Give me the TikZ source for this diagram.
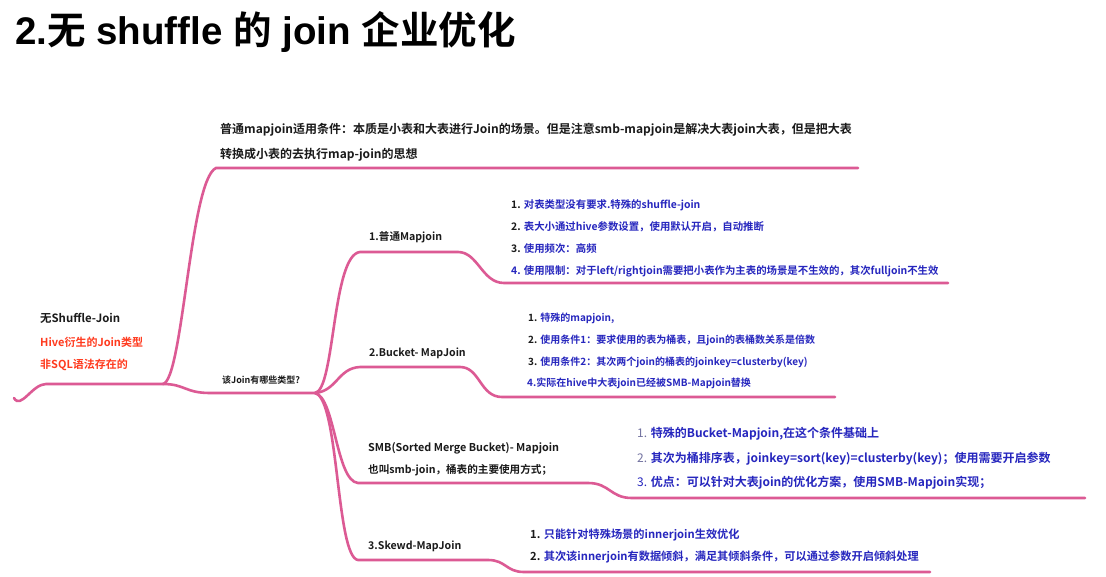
\documentclass[tikz,border=0pt]{standalone}
\usepackage{fontspec}
\setmainfont{Noto Sans CJK SC}[BoldFont={Noto Sans CJK SC Bold}]
\newfontfamily\lat{Liberation Sans}
\usetikzlibrary{positioning}
\definecolor{Branch}{HTML}{DC5A94}
\definecolor{Ink}{HTML}{1A1A1A}
\definecolor{Navy}{HTML}{2626BE}
\definecolor{Alert}{HTML}{FF3A1E}
\definecolor{Dim}{HTML}{7272A0}
\tikzset{
  branch/.style={draw=Branch,line width=2.6pt,line cap=round},
  topic/.style={anchor=west,inner sep=0pt,text=Ink,font=\bfseries\fontsize{10.6}{12}\selectfont},
  item/.style={anchor=west,inner sep=0pt,text=Navy,font=\bfseries\fontsize{10.4}{12}\selectfont},
  note/.style={anchor=west,inner sep=0pt,text=Ink,font=\bfseries\fontsize{12}{14}\selectfont}
}
\newcommand{\num}[1]{\textcolor{Ink}{#1}}
\newcommand{\dimnum}[1]{\textcolor{Dim}{\mdseries #1}}

\begin{document}
\begin{tikzpicture}[x=1pt,y=-1pt]
  \useasboundingbox (0,0) rectangle (1106,576);
  \fill[white] (0,0) rectangle (1106,576);
  % title
  \node[anchor=west,inner sep=0pt,font=\bfseries\fontsize{38.5}{42}\selectfont] (title) at (15,32) {{\lat 2.}无{\lat{} shuffle }的{\lat{} join }企业优化};
  % root
  \node[topic,font=\bfseries\fontsize{11.4}{13}\selectfont] (root) at (40,318) {无Shuffle-Join};
  \node[topic,text=Alert,font=\bfseries\fontsize{11}{13}\selectfont] (root2) at (40,342) {Hive衍生的Join类型};
  \node[topic,text=Alert,font=\bfseries\fontsize{11}{13}\selectfont] (root3) at (40,365) {非SQL语法存在的};
  % note on top branch
  \node[note] (note1) at (220,130) {普通mapjoin适用条件：本质是小表和大表进行Join的场景。但是注意smb-mapjoin是解决大表join大表，但是把大表};
  \node[note] (note2) at (220,155) {转换成小表的去执行map-join的思想};
  \node[topic,font=\bfseries\fontsize{9}{11}\selectfont] (ask) at (222,380) {该Join有哪些类型?};
  % topics
  \node[topic] (map) at (369,237) {1.普通Mapjoin};
  \node[topic] (bkt) at (369,353) {2.Bucket- MapJoin};
  \node[topic,font=\bfseries\fontsize{10.8}{12}\selectfont] (smb) at (368,448) {SMB(Sorted Merge Bucket)- Mapjoin};
  \node[topic] (smb2) at (368,470) {也叫smb-join，桶表的主要使用方式；};
  \node[topic] (skw) at (368,546) {3.Skewd-MapJoin};
  % items
  \node[item] (map1) at (511,205) {\num{1.} 对表类型没有要求.特殊的shuffle-join};
  \node[item] (map2) at (511,227) {\num{2.} 表大小通过hive参数设置，使用默认开启，自动推断};
  \node[item] (map3) at (511,249) {\num{3.} 使用频次：高频};
  \node[item] (map4) at (511,271) {4. 使用限制：对于left/rightjoin需要把小表作为主表的场景是不生效的，其次fulljoin不生效};
  \node[item,font=\bfseries\fontsize{10}{12}\selectfont] (bkt1) at (528,318) {\num{1.} 特殊的mapjoin,};
  \node[item,font=\bfseries\fontsize{10}{12}\selectfont] (bkt2) at (528,340) {\num{2.} 使用条件1：要求使用的表为桶表，且join的表桶数关系是倍数};
  \node[item,font=\bfseries\fontsize{10}{12}\selectfont] (bkt3) at (528,362) {\num{3.} 使用条件2：其次两个join的桶表的joinkey=clusterby(key)};
  \node[item,font=\bfseries\fontsize{10}{12}\selectfont] (bkt4) at (527,383) {4.实际在hive中大表join已经被SMB-Mapjoin替换};
  \node[item,font=\bfseries\fontsize{12}{14}\selectfont] (smb1) at (637,434) {\dimnum{1.} 特殊的Bucket-Mapjoin,在这个条件基础上};
  \node[item,font=\bfseries\fontsize{12}{14}\selectfont] (smb3) at (637,459) {\dimnum{2.} 其次为桶排序表，joinkey=sort(key)=clusterby(key)；使用需要开启参数};
  \node[item,font=\bfseries\fontsize{12}{14}\selectfont] (smb4) at (637,483) {{\mdseries 3.} 优点：可以针对大表join的优化方案，使用SMB-Mapjoin实现；};
  \node[item,font=\bfseries\fontsize{11.2}{13}\selectfont] (skw1) at (530,535) {\num{1.} 只能针对特殊场景的innerjoin生效优化};
  \node[item,font=\bfseries\fontsize{11.2}{13}\selectfont] (skw2) at (530,557) {\num{2.} 其次该innerjoin有数据倾斜，满足其倾斜条件，可以通过参数开启倾斜处理};
  % branch points
  \coordinate (rootL) at (14,398);
  \coordinate (rootK) at (46,384);
  \coordinate (rootR) at (163,384);
  \coordinate (noteL) at (216,168);
  \coordinate (noteR) at (858,168);
  \coordinate (askL) at (210,393);
  \coordinate (hub) at (315,393);
  \coordinate (mapL) at (360,252);
  \coordinate (mapR) at (458,252);
  \coordinate (mapIL) at (504,283);
  \coordinate (mapIR) at (948,283);
  \coordinate (bktL) at (360,367);
  \coordinate (bktR) at (460,367);
  \coordinate (bktIL) at (502,397);
  \coordinate (bktIR) at (835,397);
  \coordinate (smbL) at (358,483);
  \coordinate (smbR) at (588,483);
  \coordinate (smbIL) at (632,498);
  \coordinate (smbIR) at (1085,498);
  \coordinate (skwL) at (358,560);
  \coordinate (skwR) at (488,560);
  \coordinate (skwIL) at (524,572);
  \coordinate (skwIR) at (930,572);
  % branches
  \draw[branch] (rootL) to[out=-60,in=180] (rootK) -- (rootR);
  \draw[branch] (rootR) .. controls +(20,-4) and +(-26,12) .. (noteL) -- (noteR);
  \draw[branch] (rootR) .. controls +(22,0) and +(-25,0) .. (askL) -- (hub);
  \draw[branch] (hub) .. controls +(20,-3) and +(-28,3) .. (mapL) -- (mapR) .. controls +(20,0) and +(-22,0) .. (mapIL) -- (mapIR);
  \draw[branch] (hub) .. controls +(22,-2) and +(-22,1) .. (bktL) -- (bktR) .. controls +(20,0) and +(-22,0) .. (bktIL) -- (bktIR);
  \draw[branch] (hub) .. controls +(20,4) and +(-22,-2) .. (smbL) -- (smbR) .. controls +(22,0) and +(-22,0) .. (smbIL) -- (smbIR);
  \draw[branch] (hub) .. controls +(24,5) and +(-22,-3) .. (skwL) -- (skwR) .. controls +(18,0) and +(-18,0) .. (skwIL) -- (skwIR);
\end{tikzpicture}
\end{document}
